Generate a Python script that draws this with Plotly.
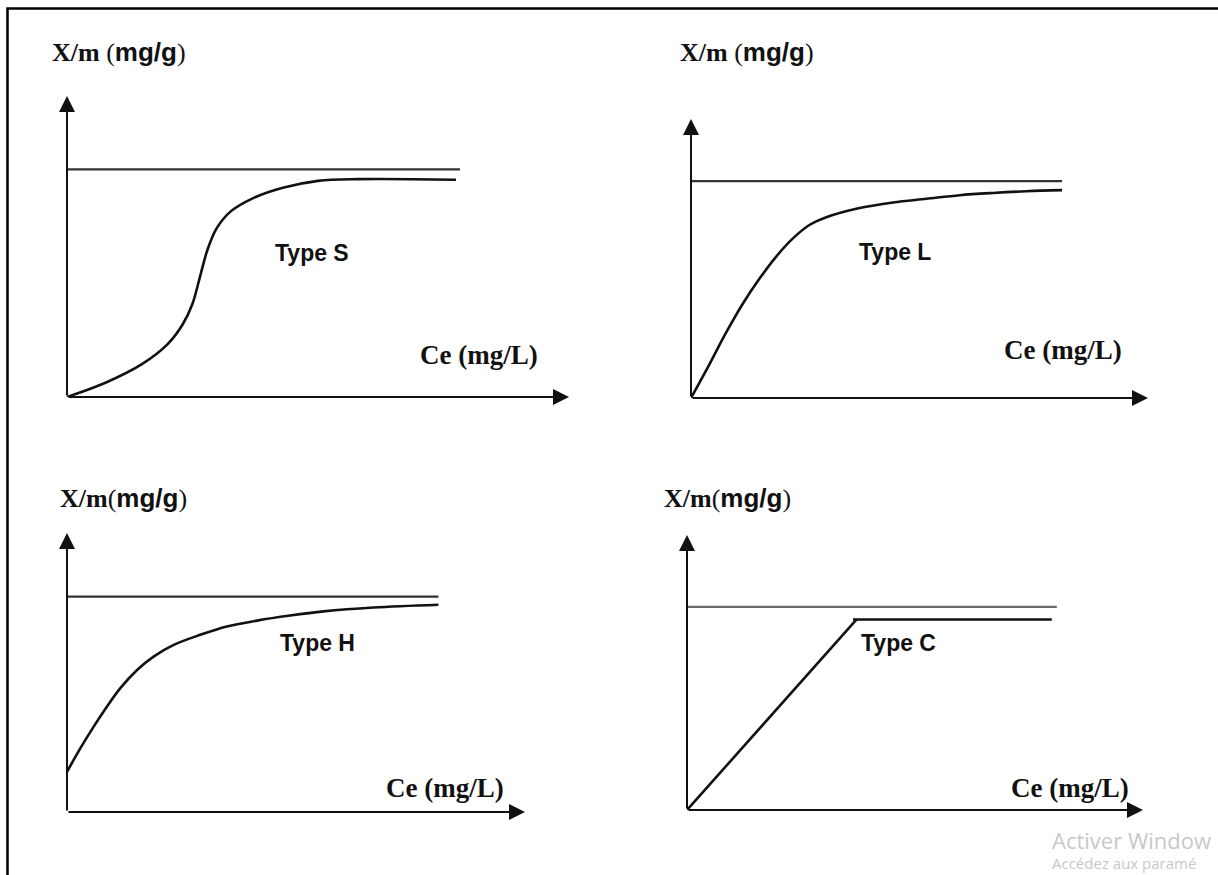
import plotly.graph_objects as go

W, H = 1218, 875

# ---- isotherm shapes (Ce on x, X/m on y, arbitrary units; axis tip = 10) ----
s_ce = [0, 0.8, 1.5, 2.0, 2.3, 2.5, 2.65, 2.8, 2.98, 3.25, 3.7, 4.3, 5.0, 5.8, 7.75]
s_q = [0, 0.5, 1.1, 1.75, 2.4, 3.1, 4.0, 4.9, 5.6, 6.15, 6.6, 6.95, 7.18, 7.24, 7.22]
s_qmax, s_end = 7.56, 7.83

l_ce = [0, 0.40, 0.77, 1.13, 1.50, 1.86, 2.23, 2.59, 2.96, 3.69, 4.42, 5.15, 5.88, 6.61, 7.34, 8.12]
l_q = [0, 1.20, 2.35, 3.37, 4.28, 5.06, 5.72, 6.20, 6.48, 6.81, 7.01, 7.14, 7.27, 7.35, 7.41, 7.45]
l_qmax, l_end = 7.77, 8.12

h_ce = [0, 0.29, 0.58, 0.87, 1.16, 1.53, 1.89, 2.33, 2.91, 3.49, 4.15, 4.87, 5.6, 6.69, 8.11]
h_q = [1.44, 2.28, 3.05, 3.77, 4.43, 5.09, 5.57, 5.99, 6.35, 6.65, 6.86, 7.04, 7.19, 7.33, 7.43]
h_qmax, h_end = 7.72, 8.11

c_ce = [0, 3.72, 8.0]
c_q = [0, 6.93, 6.93]
c_knee_start = 3.64
c_qmax, c_end = 7.39, 8.11

type_labels = ["Type S", "Type L", "Type H", "Type C"]
y_titles = ["X/m (mg/g)", "X/m (mg/g)", "X/m(mg/g)", "X/m(mg/g)"]
x_title = "Ce (mg/L)"
watermark = ["Activer Window", "Accédez aux paramé"]

# ---- panel frames in pixels: origin x, axis-tip x, origin y, axis-tip y ----
frames = [
    (67, 569, 397, 96),
    (691, 1148, 398, 119),
    (67, 525, 812, 533),
    (687, 1143, 810, 535),
]

# y-axis titles (pixel anchor: left edge, vertical centre)
title_px = [(50, 52), (678, 52), (58, 498), (662, 498)]
# in-panel labels (data units of each panel)
type_pos = [(4.89, 4.78), (4.46, 5.23), (5.47, 6.06), (4.64, 6.07)]
ce_pos = [(8.21, 1.40), (8.14, 1.72), (8.25, 0.86), (8.39, 0.80)]

curves = [(s_ce, s_q, "spline"), (l_ce, l_q, "spline"), (h_ce, h_q, "spline"), (c_ce, c_q, "linear")]
plateaus = [(s_qmax, s_end), (l_qmax, l_end), (h_qmax, h_end), (c_qmax, c_end)]

SERIF = "Liberation Serif"
SANS = "Liberation Sans"

fig = go.Figure()
layout = dict(
    width=W, height=H, margin=dict(l=0, r=0, t=0, b=0),
    paper_bgcolor="white", plot_bgcolor="rgba(0,0,0,0)", showlegend=False,
)
annotations = []

for i, (ox, tx, oy, ty) in enumerate(frames):
    k = "" if i == 0 else str(i + 1)
    xa, ya = "x" + k, "y" + k
    layout["xaxis" + k] = dict(
        domain=[ox / W, tx / W], range=[0, 10], anchor=ya,
        showgrid=False, zeroline=False, showline=False, showticklabels=False, ticks="",
    )
    layout["yaxis" + k] = dict(
        domain=[1 - oy / H, 1 - ty / H], range=[0, 10], anchor=xa,
        showgrid=False, zeroline=False, showline=False, showticklabels=False, ticks="",
    )

    # saturation level
    qmax, xend = plateaus[i]
    plat_color = "#6a6a6a" if i == 3 else "#333333"
    fig.add_trace(go.Scatter(
        x=[0, xend], y=[qmax, qmax], mode="lines", xaxis=xa, yaxis=ya,
        line=dict(color=plat_color, width=2.2), hoverinfo="skip", cliponaxis=False,
    ))

    # isotherm
    cx, cy, shape = curves[i]
    if i == 3:
        # type C: linear rise, then horizontal branch starting just before the knee
        fig.add_trace(go.Scatter(
            x=cx[:2], y=cy[:2], mode="lines", xaxis=xa, yaxis=ya,
            line=dict(color="#111111", width=2.6), hoverinfo="skip", cliponaxis=False,
        ))
        fig.add_trace(go.Scatter(
            x=[c_knee_start, cx[2]], y=[cy[1], cy[2]], mode="lines", xaxis=xa, yaxis=ya,
            line=dict(color="#111111", width=2.6), hoverinfo="skip", cliponaxis=False,
        ))
    else:
        fig.add_trace(go.Scatter(
            x=cx, y=cy, mode="lines", xaxis=xa, yaxis=ya,
            line=dict(color="#111111", width=2.6, shape=shape, smoothing=1.0),
            hoverinfo="skip", cliponaxis=False,
        ))

    # arrowed axes
    for (hx, hy) in [(10, 0), (0, 10)]:
        annotations.append(dict(
            x=hx, y=hy, ax=0, ay=0, xref=xa, yref=ya, axref=xa, ayref=ya,
            text="", showarrow=True, arrowhead=2, arrowsize=1.6, arrowwidth=2,
            arrowcolor="#111111", standoff=0, startstandoff=0,
        ))

    # texts
    tpx, tpy = title_px[i]
    title_html = y_titles[i].replace("X/m", "<b>X/m</b>").replace(
        "mg/g", "<span style='font-family:%s'><b>mg/g</b></span>" % SANS)
    annotations.append(dict(
        x=tpx / W, y=1 - tpy / H, xref="paper", yref="paper",
        xanchor="left", yanchor="middle", showarrow=False,
        text=title_html, font=dict(family=SERIF, size=26, color="#111111"),
    ))
    px_, py_ = type_pos[i]
    annotations.append(dict(
        x=px_, y=py_, xref=xa, yref=ya, xanchor="center", yanchor="middle", showarrow=False,
        text="<b>%s</b>" % type_labels[i], font=dict(family=SANS, size=23, color="#111111"),
    ))
    cx_, cy_ = ce_pos[i]
    annotations.append(dict(
        x=cx_, y=cy_, xref=xa, yref=ya, xanchor="center", yanchor="middle", showarrow=False,
        text="<b>%s</b>" % x_title, font=dict(family=SERIF, size=27, color="#111111"),
    ))

# system watermark in the lower right corner
annotations.append(dict(
    x=1050 / W, y=1 - 840 / H, xref="paper", yref="paper", xanchor="left", yanchor="middle",
    showarrow=False, text=watermark[0], font=dict(family="Open Sans", size=22, color="#c8c8c8"),
))
annotations.append(dict(
    x=1050 / W, y=1 - 863 / H, xref="paper", yref="paper", xanchor="left", yanchor="middle",
    showarrow=False, text=watermark[1], font=dict(family="Open Sans", size=15, color="#c8c8c8"),
))

layout["annotations"] = annotations
# page frame (top and left edges visible)
layout["shapes"] = [dict(
    type="rect", xref="paper", yref="paper",
    x0=7.5 / W, x1=1.05, y0=-0.05, y1=1 - 8.5 / H,
    line=dict(color="black", width=2.5), fillcolor="rgba(0,0,0,0)",
)]

fig.update_layout(**layout)
fig.write_html("out.html", config={"displayModeBar": False})
